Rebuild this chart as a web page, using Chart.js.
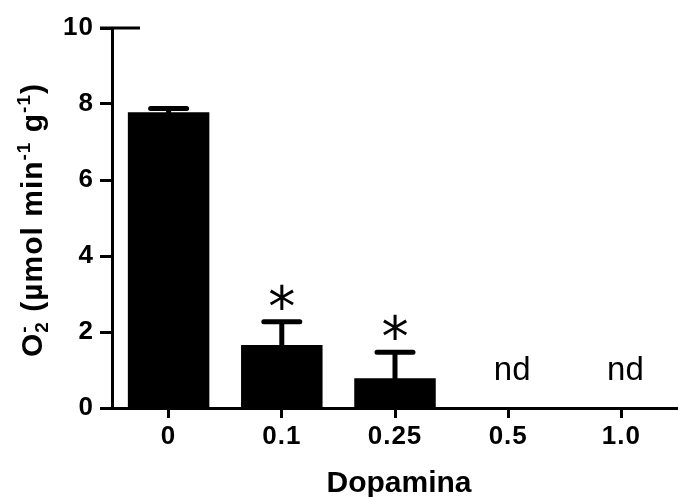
<!DOCTYPE html>
<html>
<head>
<meta charset="utf-8">
<script src="https://cdn.jsdelivr.net/npm/chart.js@4"></script>
<style>
  html, body { margin: 0; padding: 0; background: #fff; }
  #wrap { width: 678px; height: 497px; }
</style>
</head>
<body>
<div id="wrap"><canvas id="chart"></canvas></div>
<script>
const categories = ["0", "0.1", "0.25", "0.5", "1.0"];
const meanValues = [7.78, 1.66, 0.78, null, null];
const errorValues = [0.1, 0.61, 0.69, null, null];
const marks = ["", "*", "*", "nd", "nd"];
const yTicks = [0, 2, 4, 6, 8, 10];
const xTitle = "Dopamina";
// y title pieces: [text, kind] where kind is "", "sub", "sup" or "supStack"
const yTitleParts = [["O", ""], ["2", "sub"], ["-", "supStack"], [" (µmol min", ""], ["-1", "sup"], [" g", ""], ["-1", "sup"], [")", ""]];

const FONT = "'Liberation Sans', Arial, sans-serif";
const INK = "#000";

const decorations = {
  id: "decorations",
  beforeDraw(chart) {
    // tick labels in the original are set a bit wider
    chart.ctx.letterSpacing = "1px";
  },
  afterDraw(chart) {
    const { ctx, chartArea, scales } = chart;
    const x = scales.x, y = scales.y;
    ctx.save();
    ctx.letterSpacing = "0px";
    ctx.strokeStyle = INK;
    ctx.fillStyle = INK;

    // axis line runs on to the right edge, little cap line at the top tick
    ctx.lineWidth = 3;
    ctx.beginPath();
    ctx.moveTo(chartArea.left, chartArea.bottom + 0.5);
    ctx.lineTo(chart.width, chartArea.bottom + 0.5);
    ctx.moveTo(chartArea.left - 12, y.getPixelForValue(10));
    ctx.lineTo(chartArea.left + 28, y.getPixelForValue(10));
    ctx.stroke();

    // error bars (upper only)
    ctx.lineCap = "round";
    ctx.lineWidth = 5;
    meanValues.forEach((m, i) => {
      if (m == null) return;
      const cx = x.getPixelForValue(i);
      const top = y.getPixelForValue(m + errorValues[i]);
      ctx.beginPath();
      ctx.moveTo(cx, y.getPixelForValue(m));
      ctx.lineTo(cx, top);
      ctx.moveTo(cx - 18, top);
      ctx.lineTo(cx + 18, top);
      ctx.stroke();
    });

    // significance marks and "nd"
    marks.forEach((t, i) => {
      if (!t) return;
      const cx = x.getPixelForValue(i);
      ctx.textAlign = "center";
      ctx.textBaseline = "alphabetic";
      if (t === "nd") {
        ctx.font = "33px " + FONT;
        ctx.fillText(t, cx + 4, y.getPixelForValue(0) - 28);
      } else {
        ctx.font = "100px 'DejaVu Sans'";
        const m = ctx.measureText(t);
        const size = 100 * 25 / (m.actualBoundingBoxAscent + m.actualBoundingBoxDescent);
        ctx.font = size + "px 'DejaVu Sans'";
        const mm = ctx.measureText(t);
        const cy = y.getPixelForValue(meanValues[i] + errorValues[i]) - 25;
        ctx.fillText(t, cx, cy + (mm.actualBoundingBoxAscent - mm.actualBoundingBoxDescent) / 2);
      }
    });

    // x title
    ctx.font = "bold 30px " + FONT;
    ctx.textAlign = "center";
    ctx.fillText(xTitle, (chartArea.left + chartArea.right) / 2 + 4, 492);

    // y title, rotated, with sub/superscripts
    const big = "bold 30px " + FONT, small = "bold 19px " + FONT;
    ctx.letterSpacing = "1px";
    const pieces = yTitleParts.map(([t, kind]) => {
      ctx.font = kind ? small : big;
      return { t, kind, w: ctx.measureText(t).width };
    });
    let total = 0, prevW = 0;
    pieces.forEach(p => {
      p.start = total;
      if (p.kind === "supStack") {
        p.start = total - prevW;
        total = p.start + Math.max(prevW, p.w);
      } else {
        total += p.w;
      }
      prevW = p.w;
    });
    ctx.translate(42, (chartArea.top + chartArea.bottom) / 2 + 2);
    ctx.rotate(-Math.PI / 2);
    ctx.textAlign = "left";
    pieces.forEach(p => {
      ctx.font = p.kind ? small : big;
      let dy = 0;
      if (p.kind === "sub") dy = 6;
      if (p.kind === "sup" || p.kind === "supStack") dy = -12;
      ctx.fillText(p.t, p.start - total / 2, dy);
    });
    ctx.restore();
  }
};

new Chart(document.getElementById("chart"), {
  type: "bar",
  data: {
    labels: categories,
    datasets: [{
      data: meanValues,
      backgroundColor: INK,
      borderWidth: 0,
      barPercentage: 0.72,
      categoryPercentage: 1,
    }],
  },
  options: {
    responsive: true,
    maintainAspectRatio: false,
    devicePixelRatio: 1,
    animation: false,
    layout: { padding: { top: 28, right: 0, bottom: 0, left: 0 } },
    plugins: { legend: { display: false }, tooltip: { enabled: false } },
    scales: {
      x: {
        offset: true,
        grid: { offset: false, drawOnChartArea: false, drawTicks: true, tickLength: 10, tickWidth: 3, tickColor: INK },
        border: { display: true, width: 3, color: INK },
        ticks: { color: INK, font: { family: FONT, size: 26, weight: "bold" }, padding: 3, maxRotation: 0, autoSkip: false },
        afterFit(scale) { scale.height = 89; },
      },
      y: {
        min: 0,
        max: 10,
        afterBuildTicks(scale) { scale.ticks = yTicks.map(v => ({ value: v })); },
        grid: { drawOnChartArea: false, drawTicks: true, tickLength: 12, tickWidth: 3, tickColor: INK },
        border: { display: true, width: 3, color: INK },
        ticks: { color: INK, font: { family: FONT, size: 26, weight: "bold" }, padding: 6 },
        afterFit(scale) { scale.width = 112; },
      },
    },
  },
  plugins: [decorations],
});
</script>
</body>
</html>
